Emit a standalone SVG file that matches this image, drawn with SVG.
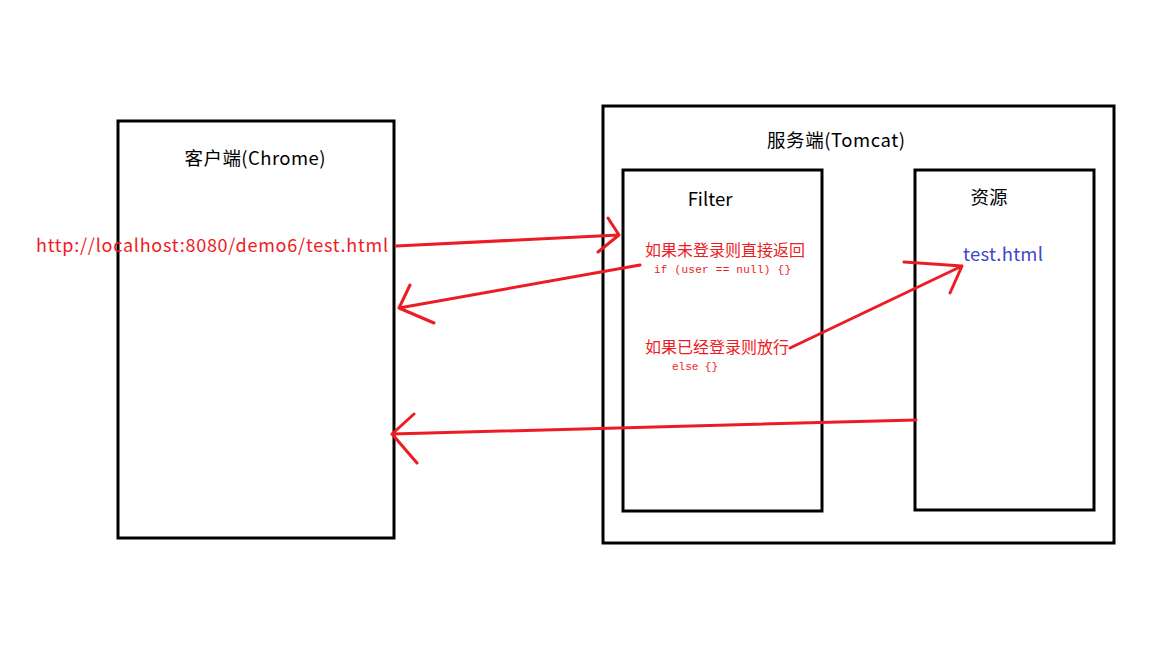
<svg xmlns="http://www.w3.org/2000/svg" width="1152" height="648" viewBox="0 0 1152 648">
<style>
.box{fill:none;stroke:#000;stroke-width:3}
.lbl{font-family:"Microsoft YaHei","Noto Sans CJK SC","Liberation Sans",sans-serif;font-size:18.5px;fill:#000}
.red{font-family:"Microsoft YaHei","Noto Sans CJK SC","Liberation Sans",sans-serif;font-size:16px;fill:#ed1c24}
.code{font-family:"Liberation Mono",monospace;font-size:11px;fill:#ed1c24}
.ln{fill:none;stroke:#ed1c24;stroke-width:3;stroke-linecap:round;stroke-linejoin:round}
</style>
<rect width="1152" height="648" fill="#fff"/>
<g id="client">
<rect class="box" x="118" y="121" width="276" height="417"/>
<text class="lbl" x="255" y="165" text-anchor="middle" textLength="141">客户端(Chrome)</text>
</g>
<g id="server">
<rect class="box" x="603" y="106" width="511" height="437"/>
<text class="lbl" x="836" y="147" text-anchor="middle" textLength="138">服务端(Tomcat)</text>
</g>
<g id="filter">
<rect class="box" x="623" y="170" width="199" height="341"/>
<text class="lbl" x="710" y="206" text-anchor="middle">Filter</text>
<text class="red" x="645" y="256" textLength="160">如果未登录则直接返回</text>
<text class="code" x="654" y="273" textLength="137">if (user == null) {}</text>
<text class="red" x="645" y="353" textLength="144">如果已经登录则放行</text>
<text class="code" x="672" y="370" textLength="46">else {}</text>
</g>
<g id="resource">
<rect class="box" x="915" y="170" width="179" height="340"/>
<text class="lbl" x="989" y="204" text-anchor="middle">资源</text>
<text x="963" y="261" font-family="'Microsoft YaHei','Noto Sans CJK SC','Liberation Sans',sans-serif" font-size="18.5" fill="#3f48cc" textLength="80">test.html</text>
</g>
<g id="url">
<text x="36" y="252" font-family="'Microsoft YaHei','Noto Sans CJK SC','Liberation Sans',sans-serif" font-size="18" fill="#ed1c24" textLength="352">http://localhost:8080/demo6/test.html</text>
</g>
<g id="connectors">
<path class="ln" d="M396,246 L619,235 M608,218 L619,235 L598,252"/>
<path class="ln" d="M640,265 L399,308 M410,285 L399,308 L434,323"/>
<path class="ln" d="M916,420 L392,434 M414,414 L392,434 L417,463"/>
<path class="ln" d="M790,348 L962,266 M904,262 L962,266 L950,293"/>
</g>
</svg>
